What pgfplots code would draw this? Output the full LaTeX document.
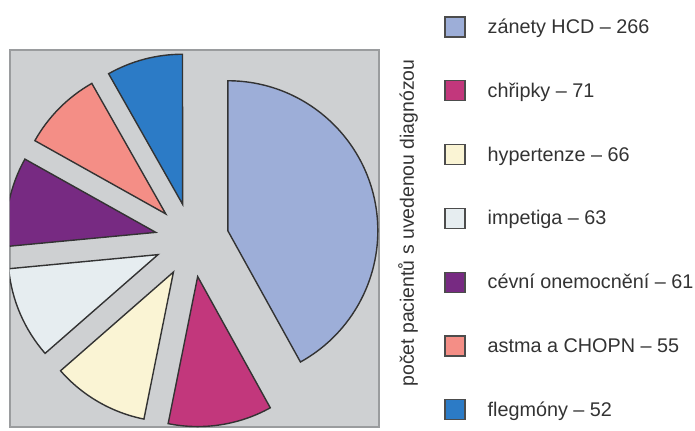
\documentclass[border=0pt]{standalone}
\usepackage{pgfplots}
\pgfplotsset{compat=1.18}
\usepackage{fontspec}
\setmainfont{Liberation Sans}
\definecolor{cA}{HTML}{9DAED8}
\definecolor{cB}{HTML}{C2377C}
\definecolor{cC}{HTML}{FAF4D4}
\definecolor{cD}{HTML}{E6EDF0}
\definecolor{cE}{HTML}{772A82}
\definecolor{cF}{HTML}{F48E86}
\definecolor{cG}{HTML}{2C7BC6}
\definecolor{bg}{HTML}{CED0D2}
\definecolor{frm}{HTML}{9A9C9E}
\definecolor{txt}{HTML}{333333}
\begin{document}
\begin{tikzpicture}
\useasboundingbox (0,0) rectangle (347.5pt,215pt);
% data: number of patients per diagnosis
\def\vA{266}\def\vB{71}\def\vC{66}\def\vD{63}\def\vE{61}\def\vF{55}\def\vG{52}
\pgfmathsetmacro\T{\vA+\vB+\vC+\vD+\vE+\vF+\vG}
\pgfmathsetmacro\aA{90}
\pgfmathsetmacro\aB{\aA-\vA/\T*360}
\pgfmathsetmacro\aC{\aB-\vB/\T*360}
\pgfmathsetmacro\aD{\aC-\vC/\T*360}
\pgfmathsetmacro\aE{\aD-\vD/\T*360}
\pgfmathsetmacro\aF{\aE-\vE/\T*360}
\pgfmathsetmacro\aG{\aF-\vF/\T*360}
\pgfmathsetmacro\aH{\aG-\vG/\T*360}
\def\cx{192}\def\cy{190}\def\d{37}
\pgfmathsetmacro\xA{\cx+\d*cos((\aA+\aB)/2)}\pgfmathsetmacro\yA{\cy+\d*sin((\aA+\aB)/2)}
\pgfmathsetmacro\xB{\cx+\d*cos((\aB+\aC)/2)}\pgfmathsetmacro\yB{\cy+\d*sin((\aB+\aC)/2)}
\pgfmathsetmacro\xC{\cx+\d*cos((\aC+\aD)/2)}\pgfmathsetmacro\yC{\cy+\d*sin((\aC+\aD)/2)}
\pgfmathsetmacro\xD{\cx+\d*cos((\aD+\aE)/2)}\pgfmathsetmacro\yD{\cy+\d*sin((\aD+\aE)/2)}
\pgfmathsetmacro\xE{\cx+\d*cos((\aE+\aF)/2)}\pgfmathsetmacro\yE{\cy+\d*sin((\aE+\aF)/2)}
\pgfmathsetmacro\xF{\cx+\d*cos((\aF+\aG)/2)}\pgfmathsetmacro\yF{\cy+\d*sin((\aF+\aG)/2)}
\pgfmathsetmacro\xG{\cx+\d*cos((\aG+\aH)/2)}\pgfmathsetmacro\yG{\cy+\d*sin((\aG+\aH)/2)}
\def\R{75pt}
\begin{axis}[
  at={(5pt,1.5pt)}, anchor=south west,
  scale only axis, width=184.5pt, height=188.5pt,
  xmin=10, xmax=379, ymin=3, ymax=380,
  ticks=none,
  axis background/.style={fill=bg},
  axis line style={frm, line width=0.9pt},
  legend image code/.code={\draw[#1] (0pt,-4pt) rectangle (10pt,6pt);},
  legend style={at={(1.16,1.1008)}, anchor=north west, draw=none, fill=none,
    font=\fontsize{9.9}{11}\selectfont\color{txt},
    nodes={inner sep=0pt, text height=7pt, text depth=2.5pt},
    row sep=20.85pt,
    /tikz/every odd column/.append style={column sep=11pt}},
  legend cell align=left,
]
\tikzset{sl/.style={draw=black!80, line width=0.7pt, line join=miter}}
\fill[sl, fill=cA] (axis cs:\xA,\yA) -- ++(\aA:\R) arc[start angle=\aA, end angle=\aB, radius=\R] -- cycle;
\fill[sl, fill=cB] (axis cs:\xB,\yB) -- ++(\aB:\R) arc[start angle=\aB, end angle=\aC, radius=\R] -- cycle;
\fill[sl, fill=cC] (axis cs:\xC,\yC) -- ++(\aC:\R) arc[start angle=\aC, end angle=\aD, radius=\R] -- cycle;
\fill[sl, fill=cD] (axis cs:\xD,\yD) -- ++(\aD:\R) arc[start angle=\aD, end angle=\aE, radius=\R] -- cycle;
\fill[sl, fill=cE] (axis cs:\xE,\yE) -- ++(\aE:\R) arc[start angle=\aE, end angle=\aF, radius=\R] -- cycle;
\fill[sl, fill=cF] (axis cs:\xF,\yF) -- ++(\aF:\R) arc[start angle=\aF, end angle=\aG, radius=\R] -- cycle;
\fill[sl, fill=cG] (axis cs:\xG,\yG) -- ++(\aG:\R) arc[start angle=\aG, end angle=\aH, radius=\R] -- cycle;
\addlegendimage{fill=cA, draw=black!70, line width=0.6pt}\addlegendentry{zánety HCD – 266}
\addlegendimage{fill=cB, draw=black!70, line width=0.6pt}\addlegendentry{chřipky – 71}
\addlegendimage{fill=cC, draw=black!70, line width=0.6pt}\addlegendentry{hypertenze – 66}
\addlegendimage{fill=cD, draw=black!70, line width=0.6pt}\addlegendentry{impetiga – 63}
\addlegendimage{fill=cE, draw=black!70, line width=0.6pt}\addlegendentry{cévní onemocnění – 61}
\addlegendimage{fill=cF, draw=black!70, line width=0.6pt}\addlegendentry{astma a CHOPN – 55}
\addlegendimage{fill=cG, draw=black!70, line width=0.6pt}\addlegendentry{flegmóny – 52}
\end{axis}
\node[rotate=90, font=\fontsize{9.7}{11}\selectfont, text=txt, inner sep=0pt] at (204pt,103.5pt) {počet pacientů s uvedenou diagnózou};
\end{tikzpicture}
\end{document}
